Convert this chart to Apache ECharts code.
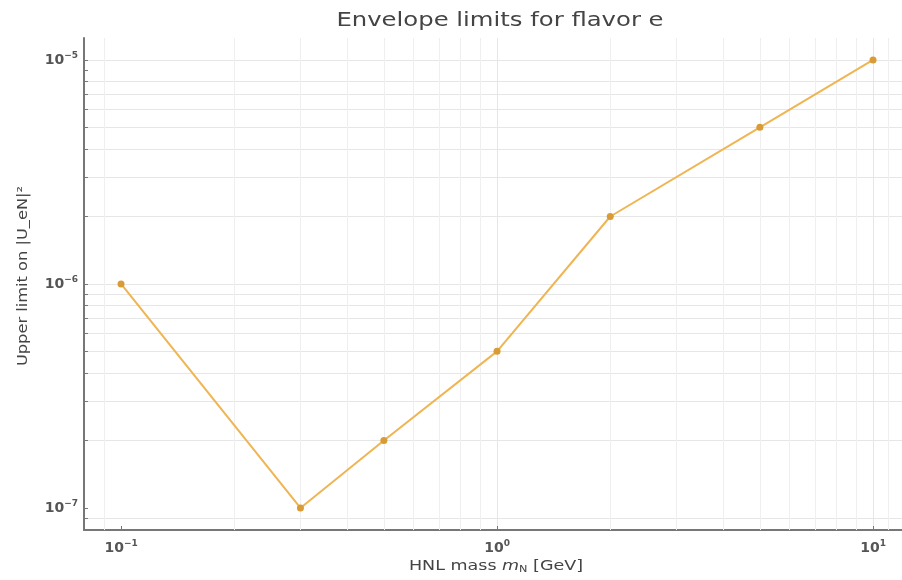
<!DOCTYPE html>
<html>
<head>
<meta charset="utf-8">
<script src="https://cdn.jsdelivr.net/npm/echarts@6/dist/echarts.min.js"></script>
<style>
html,body{margin:0;padding:0;background:#fff;}
#chart{width:902px;height:580px;}
</style>
</head>
<body>
<div id="chart"></div>
<script>
var massGeV = [0.1, 0.3, 0.5, 1, 2, 5, 10];
var upperLimit = [1e-6, 1e-7, 2e-7, 5e-7, 2e-6, 5e-6, 1e-5];
var xMajorTicks = [0.1, 1, 10];
var yMajorTicks = [1e-7, 1e-6, 1e-5];
var xMinorGrid = [0.09, 0.2, 0.3, 0.4, 0.5, 0.6, 0.7, 0.8, 0.9, 2, 3, 4, 5, 6, 7, 8, 9, 11];
var yMinorGrid = [9e-8, 2e-7, 3e-7, 4e-7, 5e-7, 6e-7, 7e-7, 8e-7, 9e-7, 2e-6, 3e-6, 4e-6, 5e-6, 6e-6, 7e-6, 8e-6, 9e-6];
var titleText = 'Envelope limits for flavor e';
var xName = 'HNL mass {it|m}{sub|N} [GeV]';
var yName = 'Upper limit on |U_eN|\u00b2';

var FONT = 'DejaVu Sans';
function powLabel(v) {
  var l = Math.log10(v);
  var e = Math.round(l);
  if (Math.abs(l - e) > 1e-6) return '';
  return '10{sup|' + String(e).replace('-', '\u2212') + '}';
}
var labelRich = {
  sup: {fontSize: 9, verticalAlign: 'top', padding: [0,0,9,0], color: '#555', fontFamily: FONT, fontWeight: 'bold'}
};

var chart = echarts.init(document.getElementById('chart'));
var minorLine = {color: '#efefef', width: 1, type: 'solid'};
chart.setOption({
  backgroundColor: '#fff',
  animation: false,
  graphic: [
    {type: 'text', x: 500, y: 21, scaleX: 1.28, z: 10,
     style: {text: titleText, fontFamily: FONT, fontSize: 19, fill: '#444',
             textAlign: 'center', textVerticalAlign: 'middle'}},
    {type: 'text', x: 496, y: 566, scaleX: 1.25, z: 10,
     style: {text: xName, fontFamily: FONT, fontSize: 14, fill: '#444',
             textAlign: 'center', textVerticalAlign: 'middle',
             rich: {it: {fontStyle: 'italic', fontFamily: FONT, fontSize: 14, fill: '#444'},
                    sub: {fontFamily: FONT, fontSize: 9, fill: '#444', padding: [8,0,0,0]}}}},
    {type: 'text', x: 23, y: 276, rotation: Math.PI / 2, scaleX: 1.12, z: 10,
     style: {text: yName, fontFamily: FONT, fontSize: 14.5, fill: '#444',
             textAlign: 'center', textVerticalAlign: 'middle'}}
  ],
  grid: {left: 84, right: 0, top: 38, bottom: 50},
  xAxis: {
    type: 'log', logBase: 10, min: 0.0797, max: 11.94,
    axisLine: {show: true, lineStyle: {color: '#777', width: 2}},
    axisTick: {show: true, inside: true, length: 4, lineStyle: {color: '#777'},
               customValues: xMajorTicks.concat(xMinorGrid)},
    axisLabel: {formatter: powLabel, showMinLabel: false, showMaxLabel: false, margin: 9,
      fontFamily: FONT, fontSize: 14, fontWeight: 'bold', color: '#555', rich: labelRich},
    splitLine: {show: true, showMinLine: false, showMaxLine: false, lineStyle: {color: '#e6e6e6', width: 1}}
  },
  yAxis: {
    type: 'log', logBase: 10, min: 7.97e-8, max: 1.253e-5,
    axisLine: {show: true, lineStyle: {color: '#777', width: 2}},
    axisTick: {show: true, inside: true, length: 4, lineStyle: {color: '#777'},
               customValues: yMajorTicks.concat(yMinorGrid)},
    axisLabel: {formatter: powLabel, showMinLabel: false, showMaxLabel: false, margin: 6,
      fontFamily: FONT, fontSize: 14, fontWeight: 'bold', color: '#555', rich: labelRich},
    splitLine: {show: true, showMinLine: false, showMaxLine: false, lineStyle: {color: '#e6e6e6', width: 1}}
  },
  series: [
    {
      type: 'line',
      data: massGeV.map(function (m, i) { return [m, upperLimit[i]]; }),
      symbol: 'circle', symbolSize: 7,
      lineStyle: {color: '#f0b553', width: 2},
      itemStyle: {color: '#d99b35'},
      z: 5,
      markLine: {
        silent: true, symbol: 'none', label: {show: false},
        lineStyle: minorLine, animation: false, z: 1,
        data: xMinorGrid.map(function (v) { return {xAxis: v}; })
          .concat(yMinorGrid.map(function (v) { return {yAxis: v}; }))
      }
    }
  ]
});
</script>
</body>
</html>
